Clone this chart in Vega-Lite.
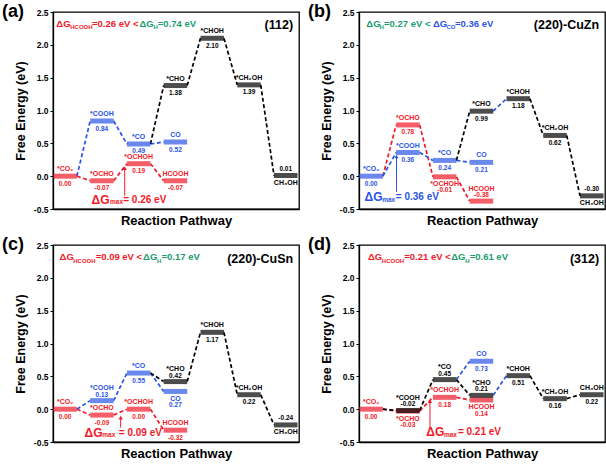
{
"$schema":"https://vega.github.io/schema/vega-lite/v6.json",
"padding":{"left":1,"top":2,"right":0,"bottom":0},
"config":{
 "font":"Liberation Sans",
 "locale":{"number":{"decimal":".","thousands":",","grouping":[3],"currency":["",""],"minus":"-"}},
 "view":{"stroke":"#000","strokeWidth":1.3},
 "axis":{"grid":false,"labelOverlap":false,"labelBound":false,"domainColor":"#000","domainWidth":1.3,"tickColor":"#000","tickWidth":1,"tickSize":3,"labelFontSize":8.5,"labelFontWeight":"bold","labelColor":"#000","titleFontWeight":"bold","titleColor":"#000"},
 "axisY":{"titleFontSize":12.5,"titlePadding":6,"labelPadding":2},
 "axisX":{"titleFontSize":13,"titlePadding":5}
},
"datasets":{
 "lv":[
  {"p":"a","s":0,"E":0,"n":"*CO₂","path":"HCOOH"},
  {"p":"a","s":1,"E":0.84,"n":"*COOH","path":"CO"},
  {"p":"a","s":1,"E":-0.07,"n":"*OCHO","path":"HCOOH"},
  {"p":"a","s":2,"E":0.49,"n":"*CO","path":"CO"},
  {"p":"a","s":2,"E":0.19,"n":"*OCHOH","path":"HCOOH"},
  {"p":"a","s":3,"E":0.52,"n":"CO","path":"CO"},
  {"p":"a","s":3,"E":-0.07,"n":"HCOOH","path":"HCOOH"},
  {"p":"a","s":3,"E":1.38,"n":"*CHO","path":"CH3OH"},
  {"p":"a","s":4,"E":2.10,"n":"*CHOH","path":"CH3OH"},
  {"p":"a","s":5,"E":1.39,"n":"*CH₂OH","path":"CH3OH"},
  {"p":"a","s":6,"E":0.01,"n":"CH₃OH","path":"CH3OH"},
  {"p":"b","s":0,"E":0,"n":"*CO₂","path":"CO"},
  {"p":"b","s":1,"E":0.78,"n":"*OCHO","path":"HCOOH"},
  {"p":"b","s":1,"E":0.36,"n":"*COOH","path":"CO"},
  {"p":"b","s":2,"E":0.24,"n":"*CO","path":"CO"},
  {"p":"b","s":2,"E":-0.01,"n":"*OCHOH","path":"HCOOH"},
  {"p":"b","s":3,"E":0.21,"n":"CO","path":"CO"},
  {"p":"b","s":3,"E":-0.38,"n":"HCOOH","path":"HCOOH"},
  {"p":"b","s":3,"E":0.99,"n":"*CHO","path":"CH3OH"},
  {"p":"b","s":4,"E":1.18,"n":"*CHOH","path":"CH3OH"},
  {"p":"b","s":5,"E":0.62,"n":"*CH₂OH","path":"CH3OH"},
  {"p":"b","s":6,"E":-0.30,"n":"CH₃OH","path":"CH3OH"},
  {"p":"c","s":0,"E":0,"n":"*CO₂","path":"HCOOH"},
  {"p":"c","s":1,"E":0.13,"n":"*COOH","path":"CO"},
  {"p":"c","s":1,"E":-0.09,"n":"*OCHO","path":"HCOOH"},
  {"p":"c","s":2,"E":0.55,"n":"*CO","path":"CO"},
  {"p":"c","s":2,"E":0.00,"n":"*OCHOH","path":"HCOOH"},
  {"p":"c","s":3,"E":0.42,"n":"*CHO","path":"CH3OH"},
  {"p":"c","s":3,"E":0.27,"n":"CO","path":"CO"},
  {"p":"c","s":3,"E":-0.32,"n":"HCOOH","path":"HCOOH"},
  {"p":"c","s":4,"E":1.17,"n":"*CHOH","path":"CH3OH"},
  {"p":"c","s":5,"E":0.22,"n":"*CH₂OH","path":"CH3OH"},
  {"p":"c","s":6,"E":-0.24,"n":"CH₃OH","path":"CH3OH"},
  {"p":"d","s":0,"E":0,"n":"*CO₂","path":"HCOOH"},
  {"p":"d","s":1,"E":-0.03,"n":"*OCHO","path":"HCOOH"},
  {"p":"d","s":1,"E":-0.02,"n":"*COOH","path":"CH3OH"},
  {"p":"d","s":2,"E":0.18,"n":"*OCHOH","path":"HCOOH"},
  {"p":"d","s":2,"E":0.45,"n":"*CO","path":"CH3OH"},
  {"p":"d","s":3,"E":0.14,"n":"HCOOH","path":"HCOOH"},
  {"p":"d","s":3,"E":0.21,"n":"*CHO","path":"CH3OH"},
  {"p":"d","s":3,"E":0.73,"n":"CO","path":"CO"},
  {"p":"d","s":4,"E":0.51,"n":"*CHOH","path":"CH3OH"},
  {"p":"d","s":5,"E":0.16,"n":"*CH₂OH","path":"CH3OH"},
  {"p":"d","s":6,"E":0.22,"n":"CH₃OH","path":"CH3OH"}
 ],
 "cn":[
  {"p":"a","s1":0,"e1":0,"s2":1,"e2":-0.07,"path":"HCOOH"},
  {"p":"a","s1":1,"e1":-0.07,"s2":2,"e2":0.19,"path":"HCOOH"},
  {"p":"a","s1":2,"e1":0.19,"s2":3,"e2":-0.07,"path":"HCOOH"},
  {"p":"a","s1":0,"e1":0,"s2":1,"e2":0.84,"path":"CO"},
  {"p":"a","s1":1,"e1":0.84,"s2":2,"e2":0.49,"path":"CO"},
  {"p":"a","s1":2,"e1":0.49,"s2":3,"e2":0.52,"path":"CO"},
  {"p":"a","s1":2,"e1":0.49,"s2":3,"e2":1.38,"path":"CH3OH"},
  {"p":"a","s1":3,"e1":1.38,"s2":4,"e2":2.10,"path":"CH3OH"},
  {"p":"a","s1":4,"e1":2.10,"s2":5,"e2":1.39,"path":"CH3OH"},
  {"p":"a","s1":5,"e1":1.39,"s2":6,"e2":0.01,"path":"CH3OH"},
  {"p":"b","s1":0,"e1":0,"s2":1,"e2":0.78,"path":"HCOOH"},
  {"p":"b","s1":1,"e1":0.78,"s2":2,"e2":-0.01,"path":"HCOOH"},
  {"p":"b","s1":2,"e1":-0.01,"s2":3,"e2":-0.38,"path":"HCOOH"},
  {"p":"b","s1":0,"e1":0,"s2":1,"e2":0.36,"path":"CO"},
  {"p":"b","s1":1,"e1":0.36,"s2":2,"e2":0.24,"path":"CO"},
  {"p":"b","s1":2,"e1":0.24,"s2":3,"e2":0.21,"path":"CO"},
  {"p":"b","s1":3,"e1":0.99,"s2":4,"e2":1.18,"path":"CO"},
  {"p":"b","s1":2,"e1":0.24,"s2":3,"e2":0.99,"path":"CH3OH"},
  {"p":"b","s1":4,"e1":1.18,"s2":5,"e2":0.62,"path":"CH3OH"},
  {"p":"b","s1":5,"e1":0.62,"s2":6,"e2":-0.30,"path":"CH3OH"},
  {"p":"c","s1":0,"e1":0,"s2":1,"e2":-0.09,"path":"HCOOH"},
  {"p":"c","s1":1,"e1":-0.09,"s2":2,"e2":0,"path":"HCOOH"},
  {"p":"c","s1":2,"e1":0,"s2":3,"e2":-0.32,"path":"HCOOH"},
  {"p":"c","s1":0,"e1":0,"s2":1,"e2":0.13,"path":"CO"},
  {"p":"c","s1":1,"e1":0.13,"s2":2,"e2":0.55,"path":"CO"},
  {"p":"c","s1":2,"e1":0.55,"s2":3,"e2":0.27,"path":"CO"},
  {"p":"c","s1":2,"e1":0.55,"s2":3,"e2":0.42,"path":"CH3OH"},
  {"p":"c","s1":3,"e1":0.42,"s2":4,"e2":1.17,"path":"CH3OH"},
  {"p":"c","s1":4,"e1":1.17,"s2":5,"e2":0.22,"path":"CH3OH"},
  {"p":"c","s1":5,"e1":0.22,"s2":6,"e2":-0.24,"path":"CH3OH"},
  {"p":"d","s1":0,"e1":0,"s2":1,"e2":-0.03,"path":"HCOOH"},
  {"p":"d","s1":1,"e1":-0.03,"s2":2,"e2":0.18,"path":"HCOOH"},
  {"p":"d","s1":2,"e1":0.18,"s2":3,"e2":0.14,"path":"HCOOH"},
  {"p":"d","s1":0,"e1":0,"s2":1,"e2":-0.02,"path":"CH3OH"},
  {"p":"d","s1":1,"e1":-0.02,"s2":2,"e2":0.45,"path":"CH3OH"},
  {"p":"d","s1":2,"e1":0.45,"s2":3,"e2":0.21,"path":"CH3OH"},
  {"p":"d","s1":4,"e1":0.51,"s2":5,"e2":0.16,"path":"CH3OH"},
  {"p":"d","s1":5,"e1":0.16,"s2":6,"e2":0.22,"path":"CH3OH"},
  {"p":"d","s1":2,"e1":0.45,"s2":3,"e2":0.73,"path":"CO"},
  {"p":"d","s1":3,"e1":0.21,"s2":4,"e2":0.51,"path":"CO"}
 ]
},
"columns":2,
"spacing":{"row":36,"column":60},
"bounds":"flush",
"concat":[
{"width":246,"height":197,"layer":[
 {"data":{"name":"cn"},"transform":[{"filter":"datum.p=='a'"}],"mark":{"type":"rule","strokeDash":[4,2.5],"strokeWidth":1.7,"xOffset":11.75,"x2Offset":-11.75},
  "encoding":{"x":{"field":"s1","type":"quantitative","scale":{"domain":[-0.33,6.36],"nice":false,"zero":false},"axis":{"title":"Reaction Pathway","labels":false,"ticks":false}},"x2":{"field":"s2"},
   "y":{"field":"e1","type":"quantitative","scale":{"domain":[-0.5,2.5],"nice":false,"zero":false},"axis":{"title":"Free Energy (eV)","values":[-0.5,0,0.5,1,1.5,2,2.4999],"tickCount":7,"labelExpr":"format(datum.value,'.1f')","labelOverlap":false,"labelBound":false,"labelFlush":false}},"y2":{"field":"e2"},
   "color":{"field":"path","type":"nominal","scale":{"domain":["HCOOH","CO","CH3OH"],"range":["#f01a28","#2c55e4","#000000"]},"legend":null}}},
 {"data":{"name":"lv"},"transform":[{"filter":"datum.p=='a'"}],"mark":{"type":"tick","orient":"horizontal","size":23.5,"thickness":5},
  "encoding":{"x":{"field":"s","type":"quantitative"},"y":{"field":"E","type":"quantitative"},"color":{"field":"path","type":"nominal","legend":null}}},
 {"data":{"name":"lv"},"transform":[{"filter":"datum.p=='a' && datum.n!='CH₃OH'"}],"mark":{"type":"text","fontSize":7,"fontWeight":"bold","dy":-7},
  "encoding":{"x":{"field":"s","type":"quantitative"},"y":{"field":"E","type":"quantitative"},"text":{"field":"n"},"color":{"field":"path","type":"nominal","legend":null}}},
 {"data":{"name":"lv"},"transform":[{"filter":"datum.p=='a' && datum.n!='CH₃OH'"}],"mark":{"type":"text","fontSize":6.5,"fontWeight":"bold","dy":7.5},
  "encoding":{"x":{"field":"s","type":"quantitative"},"y":{"field":"E","type":"quantitative"},"text":{"field":"E","type":"quantitative","format":".2f"},"color":{"field":"path","type":"nominal","legend":null}}},
 {"data":{"name":"lv"},"transform":[{"filter":"datum.p=='a' && datum.n=='CH₃OH'"}],"mark":{"type":"text","fontSize":7,"fontWeight":"bold","dy":7.5},
  "encoding":{"x":{"field":"s","type":"quantitative"},"y":{"field":"E","type":"quantitative"},"text":{"field":"n"},"color":{"field":"path","type":"nominal","legend":null}}},
 {"data":{"name":"lv"},"transform":[{"filter":"datum.p=='a' && datum.n=='CH₃OH'"}],"mark":{"type":"text","fontSize":6.5,"fontWeight":"bold","dy":-7},
  "encoding":{"x":{"field":"s","type":"quantitative"},"y":{"field":"E","type":"quantitative"},"text":{"field":"E","type":"quantitative","format":".2f"},"color":{"field":"path","type":"nominal","legend":null}}},
 {"data":{"values":[{}]},"mark":{"type":"text","text":"ΔG","align":"left","fontSize":9.5,"fontWeight":"bold","color":"#f01a28"},"encoding":{"x":{"datum":-0.24,"type":"quantitative"},"y":{"datum":2.32,"type":"quantitative"}}},
 {"data":{"values":[{}]},"mark":{"type":"text","text":"HCOOH","align":"left","fontSize":6,"fontWeight":"bold","color":"#f01a28"},"encoding":{"x":{"datum":0.14,"type":"quantitative"},"y":{"datum":2.27,"type":"quantitative"}}},
 {"data":{"values":[{}]},"mark":{"type":"text","text":"=0.26 eV <","align":"left","fontSize":9.5,"fontWeight":"bold","color":"#f01a28"},"encoding":{"x":{"datum":0.73,"type":"quantitative"},"y":{"datum":2.32,"type":"quantitative"}}},
 {"data":{"values":[{}]},"mark":{"type":"text","text":"ΔG","align":"left","fontSize":9.5,"fontWeight":"bold","color":"#1b9d6f"},"encoding":{"x":{"datum":2.02,"type":"quantitative"},"y":{"datum":2.32,"type":"quantitative"}}},
 {"data":{"values":[{}]},"mark":{"type":"text","text":"H","align":"left","fontSize":6,"fontWeight":"bold","color":"#1b9d6f"},"encoding":{"x":{"datum":2.40,"type":"quantitative"},"y":{"datum":2.27,"type":"quantitative"}}},
 {"data":{"values":[{}]},"mark":{"type":"text","text":"=0.74 eV","align":"left","fontSize":9.5,"fontWeight":"bold","color":"#1b9d6f"},"encoding":{"x":{"datum":2.52,"type":"quantitative"},"y":{"datum":2.32,"type":"quantitative"}}},
 {"data":{"values":[{}]},"mark":{"type":"text","text":"(112)","align":"right","fontSize":12.5,"fontWeight":"bold","color":"#000"},"encoding":{"x":{"datum":6.2,"type":"quantitative"},"y":{"datum":2.30,"type":"quantitative"}}},
 {"data":{"values":[{}]},"mark":{"type":"text","text":"ΔG","align":"left","fontSize":12,"fontWeight":"bold","color":"#f01a28"},"encoding":{"x":{"datum":0.72,"type":"quantitative"},"y":{"datum":-0.365,"type":"quantitative"}}},
 {"data":{"values":[{}]},"mark":{"type":"text","text":"max","align":"left","fontSize":6.5,"fontWeight":"bold","color":"#f01a28"},"encoding":{"x":{"datum":1.22,"type":"quantitative"},"y":{"datum":-0.40,"type":"quantitative"}}},
 {"data":{"values":[{}]},"mark":{"type":"text","text":"= 0.26 eV","align":"left","fontSize":10,"fontWeight":"bold","color":"#f01a28"},"encoding":{"x":{"datum":1.58,"type":"quantitative"},"y":{"datum":-0.365,"type":"quantitative"}}},
 {"data":{"values":[{}]},"mark":{"type":"rule","color":"#f01a28","strokeWidth":1},"encoding":{"x":{"datum":1.62,"type":"quantitative"},"y":{"datum":-0.30,"type":"quantitative"},"y2":{"datum":0.12}}},
 {"data":{"values":[{}]},"mark":{"type":"point","shape":"triangle-up","filled":true,"size":18,"opacity":1,"color":"#f01a28"},"encoding":{"x":{"datum":1.62,"type":"quantitative"},"y":{"datum":0.12,"type":"quantitative"}}},
 {"data":{"values":[{}]},"mark":{"type":"text","text":"(a)","align":"left","fontSize":18,"fontWeight":"bold","color":"#000"},"encoding":{"x":{"datum":-1.72,"type":"quantitative"},"y":{"datum":2.5,"type":"quantitative"}}}
]},
{"width":246,"height":197,"layer":[
 {"data":{"name":"cn"},"transform":[{"filter":"datum.p=='b'"}],"mark":{"type":"rule","strokeDash":[4,2.5],"strokeWidth":1.7,"xOffset":11.75,"x2Offset":-11.75},
  "encoding":{"x":{"field":"s1","type":"quantitative","scale":{"domain":[-0.33,6.36],"nice":false,"zero":false},"axis":{"title":"Reaction Pathway","labels":false,"ticks":false}},"x2":{"field":"s2"},
   "y":{"field":"e1","type":"quantitative","scale":{"domain":[-0.5,2.5],"nice":false,"zero":false},"axis":{"title":"Free Energy (eV)","values":[-0.5,0,0.5,1,1.5,2,2.4999],"tickCount":7,"labelExpr":"format(datum.value,'.1f')","labelOverlap":false,"labelBound":false,"labelFlush":false}},"y2":{"field":"e2"},
   "color":{"field":"path","type":"nominal","scale":{"domain":["HCOOH","CO","CH3OH"],"range":["#f01a28","#2c55e4","#000000"]},"legend":null}}},
 {"data":{"name":"lv"},"transform":[{"filter":"datum.p=='b'"}],"mark":{"type":"tick","orient":"horizontal","size":23.5,"thickness":5},
  "encoding":{"x":{"field":"s","type":"quantitative"},"y":{"field":"E","type":"quantitative"},"color":{"field":"path","type":"nominal","legend":null}}},
 {"data":{"name":"lv"},"transform":[{"filter":"datum.p=='b' && indexof(['CH₃OH','HCOOH','*OCHOH'],datum.n)<0"}],"mark":{"type":"text","fontSize":7,"fontWeight":"bold","dy":-7},
  "encoding":{"x":{"field":"s","type":"quantitative"},"y":{"field":"E","type":"quantitative"},"text":{"field":"n"},"color":{"field":"path","type":"nominal","legend":null}}},
 {"data":{"name":"lv"},"transform":[{"filter":"datum.p=='b' && indexof(['CH₃OH','HCOOH','*OCHOH'],datum.n)<0"}],"mark":{"type":"text","fontSize":6.5,"fontWeight":"bold","dy":7.5},
  "encoding":{"x":{"field":"s","type":"quantitative"},"y":{"field":"E","type":"quantitative"},"text":{"field":"E","type":"quantitative","format":".2f"},"color":{"field":"path","type":"nominal","legend":null}}},
 {"data":{"name":"lv"},"transform":[{"filter":"datum.p=='b' && indexof(['CH₃OH','*OCHOH'],datum.n)>=0"}],"mark":{"type":"text","fontSize":7,"fontWeight":"bold","dy":7.5},
  "encoding":{"x":{"field":"s","type":"quantitative"},"y":{"field":"E","type":"quantitative"},"text":{"field":"n"},"color":{"field":"path","type":"nominal","legend":null}}},
 {"data":{"name":"lv"},"transform":[{"filter":"datum.p=='b' && datum.n=='CH₃OH'"}],"mark":{"type":"text","fontSize":6.5,"fontWeight":"bold","dy":-7},
  "encoding":{"x":{"field":"s","type":"quantitative"},"y":{"field":"E","type":"quantitative"},"text":{"field":"E","type":"quantitative","format":".2f"},"color":{"field":"path","type":"nominal","legend":null}}},
 {"data":{"name":"lv"},"transform":[{"filter":"datum.p=='b' && datum.n=='*OCHOH'"}],"mark":{"type":"text","fontSize":6.5,"fontWeight":"bold","dy":13.5},
  "encoding":{"x":{"field":"s","type":"quantitative"},"y":{"field":"E","type":"quantitative"},"text":{"field":"E","type":"quantitative","format":".2f"},"color":{"field":"path","type":"nominal","legend":null}}},
 {"data":{"name":"lv"},"transform":[{"filter":"datum.p=='b' && datum.n=='HCOOH'"}],"mark":{"type":"text","fontSize":7,"fontWeight":"bold","dy":-12.5},
  "encoding":{"x":{"field":"s","type":"quantitative"},"y":{"field":"E","type":"quantitative"},"text":{"field":"n"},"color":{"field":"path","type":"nominal","legend":null}}},
 {"data":{"name":"lv"},"transform":[{"filter":"datum.p=='b' && datum.n=='HCOOH'"}],"mark":{"type":"text","fontSize":6.5,"fontWeight":"bold","dy":-6},
  "encoding":{"x":{"field":"s","type":"quantitative"},"y":{"field":"E","type":"quantitative"},"text":{"field":"E","type":"quantitative","format":".2f"},"color":{"field":"path","type":"nominal","legend":null}}},
 {"data":{"values":[{}]},"mark":{"type":"text","text":"ΔG","align":"left","fontSize":9.5,"fontWeight":"bold","color":"#1b9d6f"},"encoding":{"x":{"datum":-0.13,"type":"quantitative"},"y":{"datum":2.32,"type":"quantitative"}}},
 {"data":{"values":[{}]},"mark":{"type":"text","text":"H","align":"left","fontSize":6,"fontWeight":"bold","color":"#1b9d6f"},"encoding":{"x":{"datum":0.23,"type":"quantitative"},"y":{"datum":2.27,"type":"quantitative"}}},
 {"data":{"values":[{}]},"mark":{"type":"text","text":"=0.27 eV <","align":"left","fontSize":9.5,"fontWeight":"bold","color":"#1b9d6f"},"encoding":{"x":{"datum":0.35,"type":"quantitative"},"y":{"datum":2.32,"type":"quantitative"}}},
 {"data":{"values":[{}]},"mark":{"type":"text","text":"ΔG","align":"left","fontSize":9.5,"fontWeight":"bold","color":"#2c55e4"},"encoding":{"x":{"datum":1.68,"type":"quantitative"},"y":{"datum":2.32,"type":"quantitative"}}},
 {"data":{"values":[{}]},"mark":{"type":"text","text":"CO","align":"left","fontSize":6,"fontWeight":"bold","color":"#2c55e4"},"encoding":{"x":{"datum":2.05,"type":"quantitative"},"y":{"datum":2.27,"type":"quantitative"}}},
 {"data":{"values":[{}]},"mark":{"type":"text","text":"=0.36 eV","align":"left","fontSize":9.5,"fontWeight":"bold","color":"#2c55e4"},"encoding":{"x":{"datum":2.28,"type":"quantitative"},"y":{"datum":2.32,"type":"quantitative"}}},
 {"data":{"values":[{}]},"mark":{"type":"text","text":"(220)-CuZn","align":"right","fontSize":12.5,"fontWeight":"bold","color":"#000"},"encoding":{"x":{"datum":6.2,"type":"quantitative"},"y":{"datum":2.30,"type":"quantitative"}}},
 {"data":{"values":[{}]},"mark":{"type":"text","text":"ΔG","align":"left","fontSize":12,"fontWeight":"bold","color":"#2c55e4"},"encoding":{"x":{"datum":-0.18,"type":"quantitative"},"y":{"datum":-0.32,"type":"quantitative"}}},
 {"data":{"values":[{}]},"mark":{"type":"text","text":"max","align":"left","fontSize":6.5,"fontWeight":"bold","color":"#2c55e4"},"encoding":{"x":{"datum":0.30,"type":"quantitative"},"y":{"datum":-0.36,"type":"quantitative"}}},
 {"data":{"values":[{}]},"mark":{"type":"text","text":"= 0.36 eV","align":"left","fontSize":10,"fontWeight":"bold","color":"#2c55e4"},"encoding":{"x":{"datum":0.67,"type":"quantitative"},"y":{"datum":-0.32,"type":"quantitative"}}},
 {"data":{"values":[{}]},"mark":{"type":"rule","color":"#2c55e4","strokeWidth":1},"encoding":{"x":{"datum":0.69,"type":"quantitative"},"y":{"datum":-0.24,"type":"quantitative"},"y2":{"datum":0.30}}},
 {"data":{"values":[{}]},"mark":{"type":"point","shape":"triangle-up","filled":true,"size":18,"opacity":1,"color":"#2c55e4"},"encoding":{"x":{"datum":0.69,"type":"quantitative"},"y":{"datum":0.30,"type":"quantitative"}}},
 {"data":{"values":[{}]},"mark":{"type":"text","text":"(b)","align":"left","fontSize":18,"fontWeight":"bold","color":"#000"},"encoding":{"x":{"datum":-1.72,"type":"quantitative"},"y":{"datum":2.5,"type":"quantitative"}}}
]},
{"width":246,"height":197,"layer":[
 {"data":{"name":"cn"},"transform":[{"filter":"datum.p=='c'"}],"mark":{"type":"rule","strokeDash":[4,2.5],"strokeWidth":1.7,"xOffset":11.75,"x2Offset":-11.75},
  "encoding":{"x":{"field":"s1","type":"quantitative","scale":{"domain":[-0.33,6.36],"nice":false,"zero":false},"axis":{"title":"Reaction Pathway","labels":false,"ticks":false}},"x2":{"field":"s2"},
   "y":{"field":"e1","type":"quantitative","scale":{"domain":[-0.5,2.5],"nice":false,"zero":false},"axis":{"title":"Free Energy (eV)","values":[-0.5,0,0.5,1,1.5,2,2.4999],"tickCount":7,"labelExpr":"format(datum.value,'.1f')","labelOverlap":false,"labelBound":false,"labelFlush":false}},"y2":{"field":"e2"},
   "color":{"field":"path","type":"nominal","scale":{"domain":["HCOOH","CO","CH3OH"],"range":["#f01a28","#2c55e4","#000000"]},"legend":null}}},
 {"data":{"name":"lv"},"transform":[{"filter":"datum.p=='c'"}],"mark":{"type":"tick","orient":"horizontal","size":23.5,"thickness":5},
  "encoding":{"x":{"field":"s","type":"quantitative"},"y":{"field":"E","type":"quantitative"},"color":{"field":"path","type":"nominal","legend":null}}},
 {"data":{"name":"lv"},"transform":[{"filter":"datum.p=='c' && indexof(['CH₃OH','*COOH','*CHO','CO'],datum.n)<0"}],"mark":{"type":"text","fontSize":7,"fontWeight":"bold","dy":-7},
  "encoding":{"x":{"field":"s","type":"quantitative"},"y":{"field":"E","type":"quantitative"},"text":{"field":"n"},"color":{"field":"path","type":"nominal","legend":null}}},
 {"data":{"name":"lv"},"transform":[{"filter":"datum.p=='c' && indexof(['CH₃OH','*COOH','*CHO','CO'],datum.n)<0"}],"mark":{"type":"text","fontSize":6.5,"fontWeight":"bold","dy":7.5},
  "encoding":{"x":{"field":"s","type":"quantitative"},"y":{"field":"E","type":"quantitative"},"text":{"field":"E","type":"quantitative","format":".2f"},"color":{"field":"path","type":"nominal","legend":null}}},
 {"data":{"name":"lv"},"transform":[{"filter":"datum.p=='c' && indexof(['CH₃OH','CO'],datum.n)>=0"}],"mark":{"type":"text","fontSize":7,"fontWeight":"bold","dy":7.5},
  "encoding":{"x":{"field":"s","type":"quantitative"},"y":{"field":"E","type":"quantitative"},"text":{"field":"n"},"color":{"field":"path","type":"nominal","legend":null}}},
 {"data":{"name":"lv"},"transform":[{"filter":"datum.p=='c' && datum.n=='CH₃OH'"}],"mark":{"type":"text","fontSize":6.5,"fontWeight":"bold","dy":-7},
  "encoding":{"x":{"field":"s","type":"quantitative"},"y":{"field":"E","type":"quantitative"},"text":{"field":"E","type":"quantitative","format":".2f"},"color":{"field":"path","type":"nominal","legend":null}}},
 {"data":{"name":"lv"},"transform":[{"filter":"datum.p=='c' && datum.n=='CO'"}],"mark":{"type":"text","fontSize":6.5,"fontWeight":"bold","dy":13.5},
  "encoding":{"x":{"field":"s","type":"quantitative"},"y":{"field":"E","type":"quantitative"},"text":{"field":"E","type":"quantitative","format":".2f"},"color":{"field":"path","type":"nominal","legend":null}}},
 {"data":{"name":"lv"},"transform":[{"filter":"datum.p=='c' && indexof(['*COOH','*CHO'],datum.n)>=0"}],"mark":{"type":"text","fontSize":7,"fontWeight":"bold","dy":-12.5},
  "encoding":{"x":{"field":"s","type":"quantitative"},"y":{"field":"E","type":"quantitative"},"text":{"field":"n"},"color":{"field":"path","type":"nominal","legend":null}}},
 {"data":{"name":"lv"},"transform":[{"filter":"datum.p=='c' && indexof(['*COOH','*CHO'],datum.n)>=0"}],"mark":{"type":"text","fontSize":6.5,"fontWeight":"bold","dy":-6},
  "encoding":{"x":{"field":"s","type":"quantitative"},"y":{"field":"E","type":"quantitative"},"text":{"field":"E","type":"quantitative","format":".2f"},"color":{"field":"path","type":"nominal","legend":null}}},
 {"data":{"values":[{}]},"mark":{"type":"text","text":"ΔG","align":"left","fontSize":9.5,"fontWeight":"bold","color":"#f01a28"},"encoding":{"x":{"datum":-0.15,"type":"quantitative"},"y":{"datum":2.31,"type":"quantitative"}}},
 {"data":{"values":[{}]},"mark":{"type":"text","text":"HCOOH","align":"left","fontSize":6,"fontWeight":"bold","color":"#f01a28"},"encoding":{"x":{"datum":0.22,"type":"quantitative"},"y":{"datum":2.26,"type":"quantitative"}}},
 {"data":{"values":[{}]},"mark":{"type":"text","text":"=0.09 eV <","align":"left","fontSize":9.5,"fontWeight":"bold","color":"#f01a28"},"encoding":{"x":{"datum":0.83,"type":"quantitative"},"y":{"datum":2.31,"type":"quantitative"}}},
 {"data":{"values":[{}]},"mark":{"type":"text","text":"ΔG","align":"left","fontSize":9.5,"fontWeight":"bold","color":"#1b9d6f"},"encoding":{"x":{"datum":2.12,"type":"quantitative"},"y":{"datum":2.31,"type":"quantitative"}}},
 {"data":{"values":[{}]},"mark":{"type":"text","text":"H","align":"left","fontSize":6,"fontWeight":"bold","color":"#1b9d6f"},"encoding":{"x":{"datum":2.50,"type":"quantitative"},"y":{"datum":2.26,"type":"quantitative"}}},
 {"data":{"values":[{}]},"mark":{"type":"text","text":"=0.17 eV","align":"left","fontSize":9.5,"fontWeight":"bold","color":"#1b9d6f"},"encoding":{"x":{"datum":2.62,"type":"quantitative"},"y":{"datum":2.31,"type":"quantitative"}}},
 {"data":{"values":[{}]},"mark":{"type":"text","text":"(220)-CuSn","align":"right","fontSize":12.5,"fontWeight":"bold","color":"#000"},"encoding":{"x":{"datum":6.2,"type":"quantitative"},"y":{"datum":2.29,"type":"quantitative"}}},
 {"data":{"values":[{}]},"mark":{"type":"text","text":"ΔG","align":"left","fontSize":12,"fontWeight":"bold","color":"#f01a28"},"encoding":{"x":{"datum":0.53,"type":"quantitative"},"y":{"datum":-0.36,"type":"quantitative"}}},
 {"data":{"values":[{}]},"mark":{"type":"text","text":"max","align":"left","fontSize":6.5,"fontWeight":"bold","color":"#f01a28"},"encoding":{"x":{"datum":1.01,"type":"quantitative"},"y":{"datum":-0.40,"type":"quantitative"}}},
 {"data":{"values":[{}]},"mark":{"type":"text","text":"= 0.09 eV","align":"left","fontSize":10,"fontWeight":"bold","color":"#f01a28"},"encoding":{"x":{"datum":1.46,"type":"quantitative"},"y":{"datum":-0.36,"type":"quantitative"}}},
 {"data":{"values":[{}]},"mark":{"type":"rule","color":"#f01a28","strokeWidth":1},"encoding":{"x":{"datum":1.51,"type":"quantitative"},"y":{"datum":-0.28,"type":"quantitative"},"y2":{"datum":-0.13}}},
 {"data":{"values":[{}]},"mark":{"type":"point","shape":"triangle-up","filled":true,"size":18,"opacity":1,"color":"#f01a28"},"encoding":{"x":{"datum":1.51,"type":"quantitative"},"y":{"datum":-0.13,"type":"quantitative"}}},
 {"data":{"values":[{}]},"mark":{"type":"text","text":"(c)","align":"left","fontSize":18,"fontWeight":"bold","color":"#000"},"encoding":{"x":{"datum":-1.72,"type":"quantitative"},"y":{"datum":2.5,"type":"quantitative"}}}
]},
{"width":246,"height":197,"layer":[
 {"data":{"name":"cn"},"transform":[{"filter":"datum.p=='d'"}],"mark":{"type":"rule","strokeDash":[4,2.5],"strokeWidth":1.7,"xOffset":11.75,"x2Offset":-11.75},
  "encoding":{"x":{"field":"s1","type":"quantitative","scale":{"domain":[-0.33,6.36],"nice":false,"zero":false},"axis":{"title":"Reaction Pathway","labels":false,"ticks":false}},"x2":{"field":"s2"},
   "y":{"field":"e1","type":"quantitative","scale":{"domain":[-0.5,2.5],"nice":false,"zero":false},"axis":{"title":"Free Energy (eV)","values":[-0.5,0,0.5,1,1.5,2,2.4999],"tickCount":7,"labelExpr":"format(datum.value,'.1f')","labelOverlap":false,"labelBound":false,"labelFlush":false}},"y2":{"field":"e2"},
   "color":{"field":"path","type":"nominal","scale":{"domain":["HCOOH","CO","CH3OH"],"range":["#f01a28","#2c55e4","#000000"]},"legend":null}}},
 {"data":{"name":"lv"},"transform":[{"filter":"datum.p=='d'"}],"mark":{"type":"tick","orient":"horizontal","size":23.5,"thickness":5},
  "encoding":{"x":{"field":"s","type":"quantitative"},"y":{"field":"E","type":"quantitative"},"color":{"field":"path","type":"nominal","legend":null}}},
 {"data":{"name":"lv"},"transform":[{"filter":"datum.p=='d' && indexof(['*COOH','*CO','*CHO','*OCHO','HCOOH'],datum.n)<0"}],"mark":{"type":"text","fontSize":7,"fontWeight":"bold","dy":-7},
  "encoding":{"x":{"field":"s","type":"quantitative"},"y":{"field":"E","type":"quantitative"},"text":{"field":"n"},"color":{"field":"path","type":"nominal","legend":null}}},
 {"data":{"name":"lv"},"transform":[{"filter":"datum.p=='d' && indexof(['*COOH','*CO','*CHO','*OCHO','HCOOH'],datum.n)<0"}],"mark":{"type":"text","fontSize":6.5,"fontWeight":"bold","dy":7.5},
  "encoding":{"x":{"field":"s","type":"quantitative"},"y":{"field":"E","type":"quantitative"},"text":{"field":"E","type":"quantitative","format":".2f"},"color":{"field":"path","type":"nominal","legend":null}}},
 {"data":{"name":"lv"},"transform":[{"filter":"datum.p=='d' && indexof(['*COOH','*CO','*CHO'],datum.n)>=0"}],"mark":{"type":"text","fontSize":7,"fontWeight":"bold","dy":-12.5},
  "encoding":{"x":{"field":"s","type":"quantitative"},"y":{"field":"E","type":"quantitative"},"text":{"field":"n"},"color":{"field":"path","type":"nominal","legend":null}}},
 {"data":{"name":"lv"},"transform":[{"filter":"datum.p=='d' && indexof(['*COOH','*CO','*CHO'],datum.n)>=0"}],"mark":{"type":"text","fontSize":6.5,"fontWeight":"bold","dy":-6},
  "encoding":{"x":{"field":"s","type":"quantitative"},"y":{"field":"E","type":"quantitative"},"text":{"field":"E","type":"quantitative","format":".2f"},"color":{"field":"path","type":"nominal","legend":null}}},
 {"data":{"name":"lv"},"transform":[{"filter":"datum.p=='d' && indexof(['*OCHO','HCOOH'],datum.n)>=0"}],"mark":{"type":"text","fontSize":7,"fontWeight":"bold","dy":7.5},
  "encoding":{"x":{"field":"s","type":"quantitative"},"y":{"field":"E","type":"quantitative"},"text":{"field":"n"},"color":{"field":"path","type":"nominal","legend":null}}},
 {"data":{"name":"lv"},"transform":[{"filter":"datum.p=='d' && indexof(['*OCHO','HCOOH'],datum.n)>=0"}],"mark":{"type":"text","fontSize":6.5,"fontWeight":"bold","dy":14},
  "encoding":{"x":{"field":"s","type":"quantitative"},"y":{"field":"E","type":"quantitative"},"text":{"field":"E","type":"quantitative","format":".2f"},"color":{"field":"path","type":"nominal","legend":null}}},
 {"data":{"values":[{}]},"mark":{"type":"text","text":"ΔG","align":"left","fontSize":9.5,"fontWeight":"bold","color":"#f01a28"},"encoding":{"x":{"datum":-0.085,"type":"quantitative"},"y":{"datum":2.31,"type":"quantitative"}}},
 {"data":{"values":[{}]},"mark":{"type":"text","text":"HCOOH","align":"left","fontSize":6,"fontWeight":"bold","color":"#f01a28"},"encoding":{"x":{"datum":0.29,"type":"quantitative"},"y":{"datum":2.26,"type":"quantitative"}}},
 {"data":{"values":[{}]},"mark":{"type":"text","text":"=0.21 eV <","align":"left","fontSize":9.5,"fontWeight":"bold","color":"#f01a28"},"encoding":{"x":{"datum":0.90,"type":"quantitative"},"y":{"datum":2.31,"type":"quantitative"}}},
 {"data":{"values":[{}]},"mark":{"type":"text","text":"ΔG","align":"left","fontSize":9.5,"fontWeight":"bold","color":"#1b9d6f"},"encoding":{"x":{"datum":2.18,"type":"quantitative"},"y":{"datum":2.31,"type":"quantitative"}}},
 {"data":{"values":[{}]},"mark":{"type":"text","text":"H","align":"left","fontSize":6,"fontWeight":"bold","color":"#1b9d6f"},"encoding":{"x":{"datum":2.56,"type":"quantitative"},"y":{"datum":2.26,"type":"quantitative"}}},
 {"data":{"values":[{}]},"mark":{"type":"text","text":"=0.61 eV","align":"left","fontSize":9.5,"fontWeight":"bold","color":"#1b9d6f"},"encoding":{"x":{"datum":2.68,"type":"quantitative"},"y":{"datum":2.31,"type":"quantitative"}}},
 {"data":{"values":[{}]},"mark":{"type":"text","text":"(312)","align":"right","fontSize":12.5,"fontWeight":"bold","color":"#000"},"encoding":{"x":{"datum":6.2,"type":"quantitative"},"y":{"datum":2.29,"type":"quantitative"}}},
 {"data":{"values":[{}]},"mark":{"type":"text","text":"ΔG","align":"left","fontSize":12,"fontWeight":"bold","color":"#f01a28"},"encoding":{"x":{"datum":1.50,"type":"quantitative"},"y":{"datum":-0.35,"type":"quantitative"}}},
 {"data":{"values":[{}]},"mark":{"type":"text","text":"max","align":"left","fontSize":6.5,"fontWeight":"bold","color":"#f01a28"},"encoding":{"x":{"datum":1.98,"type":"quantitative"},"y":{"datum":-0.39,"type":"quantitative"}}},
 {"data":{"values":[{}]},"mark":{"type":"text","text":"= 0.21 eV","align":"left","fontSize":10,"fontWeight":"bold","color":"#f01a28"},"encoding":{"x":{"datum":2.36,"type":"quantitative"},"y":{"datum":-0.35,"type":"quantitative"}}},
 {"data":{"values":[{}]},"mark":{"type":"rule","color":"#f01a28","strokeWidth":1},"encoding":{"x":{"datum":1.60,"type":"quantitative"},"y":{"datum":-0.28,"type":"quantitative"},"y2":{"datum":0.12}}},
 {"data":{"values":[{}]},"mark":{"type":"point","shape":"triangle-up","filled":true,"size":18,"opacity":1,"color":"#f01a28"},"encoding":{"x":{"datum":1.60,"type":"quantitative"},"y":{"datum":0.12,"type":"quantitative"}}},
 {"data":{"values":[{}]},"mark":{"type":"text","text":"(d)","align":"left","fontSize":18,"fontWeight":"bold","color":"#000"},"encoding":{"x":{"datum":-1.72,"type":"quantitative"},"y":{"datum":2.5,"type":"quantitative"}}}
]}
]
}
